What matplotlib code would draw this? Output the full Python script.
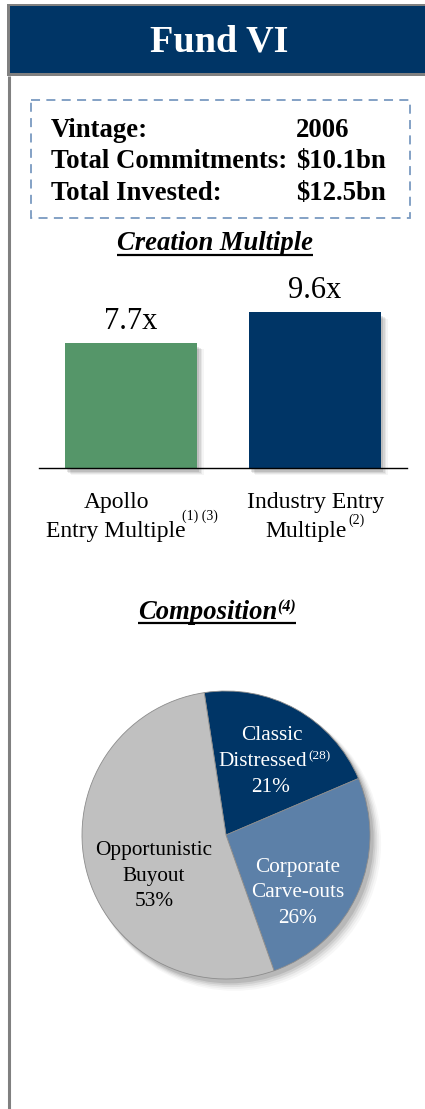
import matplotlib
matplotlib.use("Agg")
import matplotlib.pyplot as plt
from matplotlib.patches import Rectangle
import numpy as np

plt.rcParams['font.family'] = ['Liberation Serif', 'DejaVu Serif']

# ---------------- data ----------------
title = "Fund VI"
info_labels = ["Vintage:", "Total Commitments:", "Total Invested:"]
info_values = ["2006", "$10.1bn", "$12.5bn"]

bar_categories = ["Apollo\nEntry Multiple", "Industry Entry\nMultiple"]
bar_values = [7.7, 9.6]
bar_value_labels = ["7.7x", "9.6x"]
bar_colors = ["#559669", "#003566"]

pie_labels = ["Classic Distressed", "Corporate Carve-outs", "Opportunistic Buyout"]
pie_values = [21, 26, 53]
pie_colors = ["#003566", "#5C80A8", "#C0C0C0"]

W, H = 425, 1109
fig = plt.figure(figsize=(W / 100, H / 100), dpi=100)
fig.patch.set_facecolor("white")


def fx(px):
    return px / W


def fy(py):
    return 1 - py / H


# overlay axes in pixel coordinates (for frame + texts)
ov = fig.add_axes([0, 0, 1, 1], zorder=5)
ov.set_xlim(0, W)
ov.set_ylim(H, 0)
ov.axis("off")

# header
ov.add_patch(Rectangle((7, 4), W - 7, 72, facecolor="#808080", edgecolor="none"))
ov.add_patch(Rectangle((10, 6), W - 10, 67, facecolor="#003566", edgecolor="none"))
ov.plot([9, 9], [76, H], color="#808080", lw=2.2, solid_capstyle="butt")
ov.text(219, 42, title, color="white", fontsize=27.5, fontweight="bold",
        ha="center", va="center")

# dashed info box
ov.add_patch(Rectangle((31, 100), 379, 118, facecolor="none", edgecolor="#7A9AC0",
                       lw=1.3, linestyle=(0, (5, 3.5))))
for i, (lab, val) in enumerate(zip(info_labels, info_values)):
    yb = 137 + i * 31.5
    ov.text(51, yb, lab, fontsize=19.3, fontweight="bold", ha="left", va="baseline")
    ov.text(296, yb, val, fontsize=19.3, fontweight="bold", ha="left", va="baseline")

fig.canvas.draw()
inv = ov.transData.inverted()


def underline(txt_objs, y, lw=1.6):
    fig.canvas.draw()
    xs = []
    for t in txt_objs:
        bb = t.get_window_extent(renderer=fig.canvas.get_renderer())
        (x0, _), (x1, _) = inv.transform([[bb.x0, bb.y0], [bb.x1, bb.y1]])
        xs += [x0, x1]
    ov.plot([min(xs), max(xs)], [y, y], color="black", lw=lw, solid_capstyle="butt")


t1 = ov.text(215, 250, "Creation Multiple", fontsize=19.2, fontweight="bold",
             fontstyle="italic", ha="center", va="baseline")
underline([t1], 255)

t2 = ov.text(277, 619, "Composition", fontsize=19.2, fontweight="bold",
             fontstyle="italic", ha="right", va="baseline")
t3 = ov.text(277, 611, "(4)", fontsize=11.5, fontweight="bold",
             fontstyle="italic", ha="left", va="baseline")
underline([t2, t3], 623)

# ---------------- bar chart ----------------
bx0, bx1 = 39, 407
by0, by1 = 260, 468
axb = fig.add_axes([fx(bx0), fy(by1), (bx1 - bx0) / W, (by1 - by0) / H])
axb.axis("off")
xpos = np.arange(len(bar_values))
# soft shadow
for k, a in enumerate([0.10, 0.08, 0.06, 0.04]):
    off = 0.012 + 0.008 * k
    axb.bar(xpos + off, np.array(bar_values), width=0.72, bottom=-0.25 - 0.05 * k,
            color="black", alpha=a, zorder=1, linewidth=0, clip_on=False)
axb.bar(xpos, bar_values, width=0.72, color=bar_colors, zorder=2, linewidth=0)
axb.axhline(0, color="black", lw=1.0, zorder=3, clip_on=False)
axb.set_xlim(-0.5, 1.5)
axb.set_ylim(0, 12.8)
for x, v, lab in zip(xpos, bar_values, bar_value_labels):
    axb.annotate(lab, xy=(x, v), xytext=(0, 10), textcoords="offset points",
                 ha="center", va="baseline", fontsize=22)

# category labels (with superscripts)
ov.text(117, 508, "Apollo", fontsize=17, ha="center", va="baseline")
ov.text(116, 537, "Entry Multiple", fontsize=17, ha="center", va="baseline")
ov.text(182, 520, "(1) (3)", fontsize=10, ha="left", va="baseline")
ov.text(316, 508, "Industry Entry", fontsize=17, ha="center", va="baseline")
ov.text(347, 537, "Multiple", fontsize=17, ha="right", va="baseline")
ov.text(348, 524, "(2)", fontsize=10, ha="left", va="baseline")

# ---------------- pie chart ----------------
cx, cy, r = 226, 835, 144
axp = fig.add_axes([fx(cx - r), fy(cy + r), 2 * r / W, 2 * r / H])
axp.axis("off")
# soft shadow
for k, a in enumerate([0.10, 0.08, 0.06, 0.04, 0.03]):
    sw, _ = axp.pie([1], radius=1.0 + 0.005 * k, center=(0.025 + 0.008 * k, -0.03 - 0.008 * k),
                    colors=["black"], wedgeprops=dict(alpha=a, linewidth=0))
    for w in sw:
        w.set_clip_on(False)
wedges, _ = axp.pie(pie_values, colors=pie_colors, startangle=98.7, counterclock=False,
                    wedgeprops=dict(edgecolor="#8C8C8C", linewidth=0.6))
for w in wedges:
    w.set_clip_on(False)
axp.set_xlim(-1, 1)
axp.set_ylim(-1, 1)
axp.set_aspect("equal")

# pie labels
fs = 15.3
ov.text(272, 740, "Classic", fontsize=fs, color="white", ha="center", va="baseline")
ov.text(307, 765.5, "Distressed", fontsize=fs, color="white", ha="right", va="baseline")
ov.text(308, 759, "(28)", fontsize=9.5, color="white", ha="left", va="baseline")
ov.text(271, 792, "21%", fontsize=fs, color="white", ha="center", va="baseline")

ov.text(154, 855, "Opportunistic", fontsize=fs, color="black", ha="center", va="baseline")
ov.text(154, 881, "Buyout", fontsize=fs, color="black", ha="center", va="baseline")
ov.text(154, 906, "53%", fontsize=fs, color="black", ha="center", va="baseline")

ov.text(298, 872, "Corporate", fontsize=fs, color="white", ha="center", va="baseline")
ov.text(298, 897, "Carve-outs", fontsize=fs, color="white", ha="center", va="baseline")
ov.text(298, 923, "26%", fontsize=fs, color="white", ha="center", va="baseline")

fig.savefig("out.png", dpi=100)
